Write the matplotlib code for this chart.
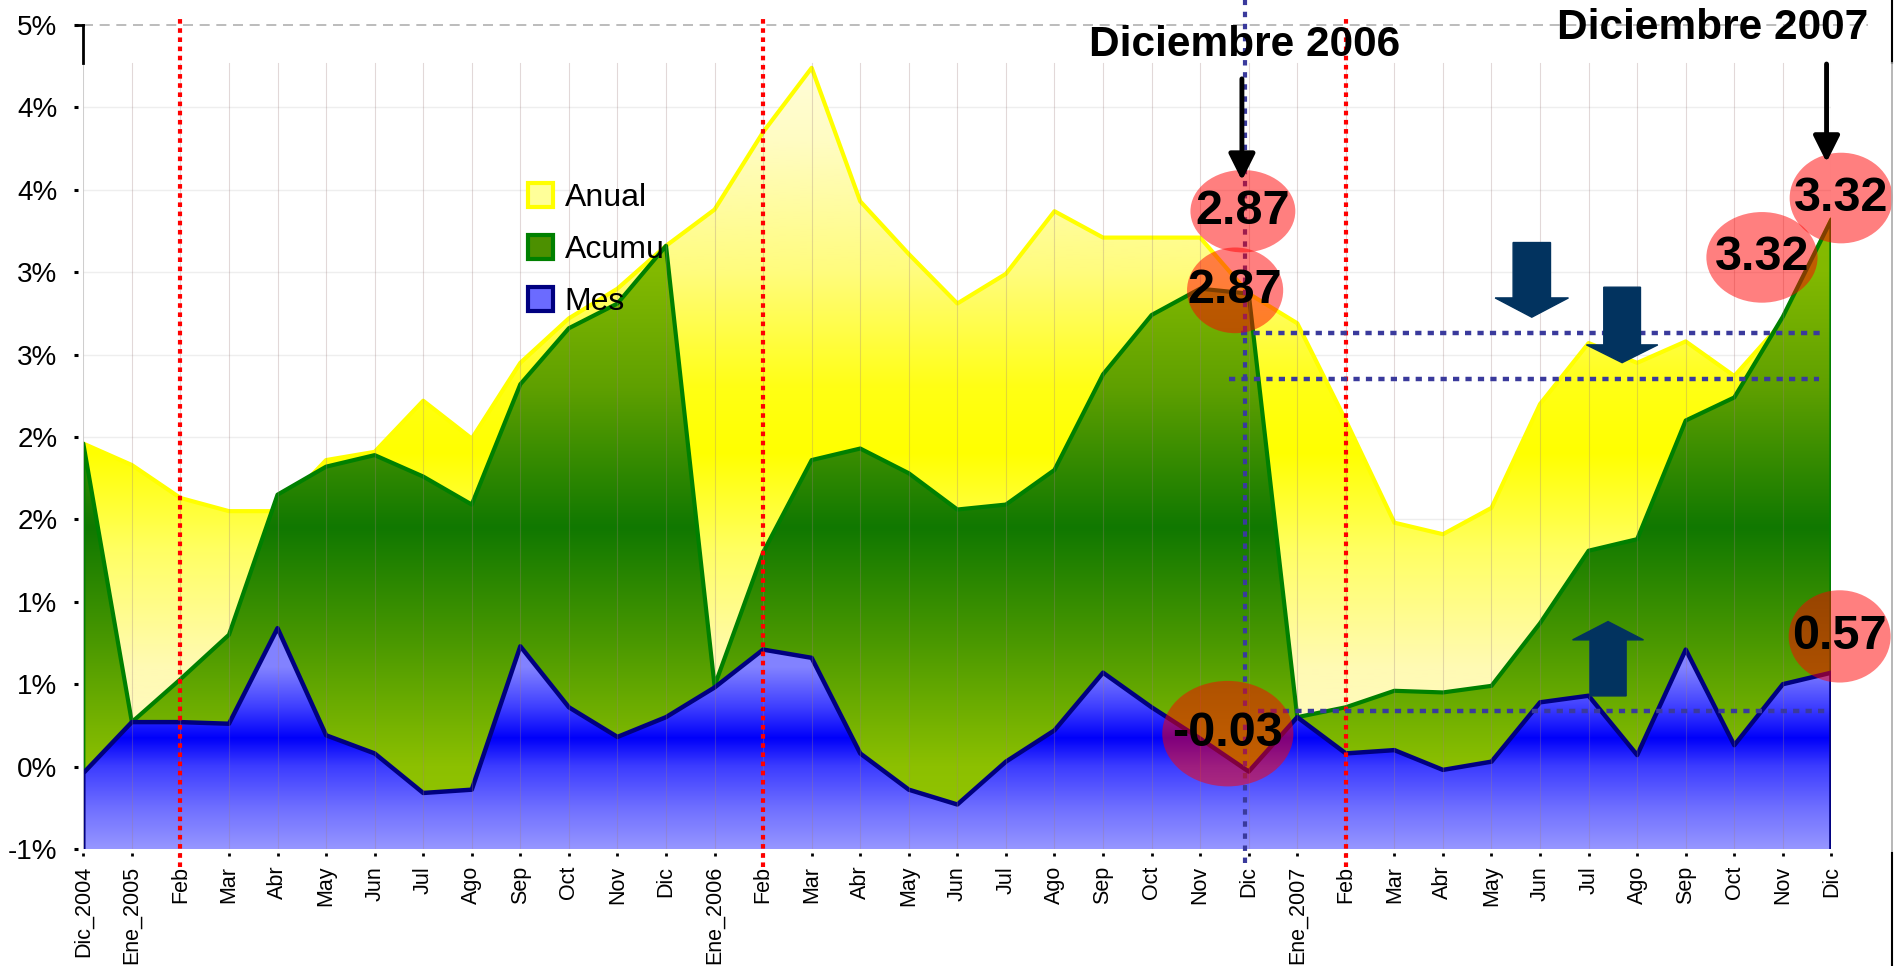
import matplotlib
matplotlib.use("Agg")
import matplotlib.pyplot as plt
import numpy as np
from matplotlib.patches import Ellipse, FancyArrow, Patch
from matplotlib.lines import Line2D

plt.rcParams['font.family'] = ['Liberation Sans', 'DejaVu Sans']

# ---- data (% variation) ----
meses = ["Feb", "Mar", "Abr", "May", "Jun", "Jul", "Ago", "Sep", "Oct", "Nov", "Dic"]
etiquetas = ["Dic_2004", "Ene_2005"] + meses + ["Ene_2006"] + meses + ["Ene_2007"] + meses

anual = [1.96, 1.83, 1.63, 1.55, 1.55, 1.86, 1.91, 2.22, 1.99, 2.45, 2.72, 2.90,
         3.16, 3.38, 3.85, 4.24, 3.43, 3.11, 2.81, 2.99, 3.37, 3.21, 3.21, 3.21, 2.87,
         2.69, 2.10, 1.48, 1.41, 1.57, 2.20, 2.57, 2.45, 2.58, 2.37, 2.70, 3.32]
acumulado = [1.96, 0.27, 0.53, 0.80, 1.65, 1.82, 1.89, 1.76, 1.59, 2.32, 2.66, 2.81,
             3.16, 0.49, 1.30, 1.86, 1.93, 1.78, 1.56, 1.59, 1.80, 2.38, 2.74, 2.90, 2.87,
             0.30, 0.36, 0.46, 0.45, 0.49, 0.87, 1.31, 1.38, 2.10, 2.24, 2.73, 3.32]
mensual = [-0.04, 0.27, 0.27, 0.26, 0.84, 0.19, 0.08, -0.16, -0.14, 0.73, 0.36, 0.18,
           0.30, 0.48, 0.71, 0.66, 0.08, -0.14, -0.23, 0.03, 0.22, 0.57, 0.36, 0.17, -0.03,
           0.30, 0.08, 0.10, -0.02, 0.03, 0.39, 0.43, 0.07, 0.71, 0.13, 0.50, 0.57]

ytick_vals = [-0.5, 0.0, 0.5, 1.0, 1.5, 2.0, 2.5, 3.0, 3.5, 4.0, 4.5]
ytick_labels = ["-1%", "0%", "1%", "1%", "2%", "2%", "3%", "3%", "4%", "4%", "5%"]

# reference levels drawn as dotted lines (value, from index, to index)
niveles = [(2.63, 23.84, 35.87), (2.35, 23.6, 35.75), (0.34, 24.2, 35.9)]
febreros = [2, 14, 26]
dic_2006, dic_2007 = 24, 36

Y0, Y1 = -0.5, 4.5
TOP_INNER = 4.27

# gradient stops: (value, rgb)
grad_anual = [(-0.5, (255, 250, 205)), (0.6, (255, 250, 180)), (1.3, (255, 255, 100)),
              (1.9, (255, 255, 0)), (2.3, (255, 255, 20)), (3.0, (255, 252, 125)),
              (3.8, (255, 252, 195)), (4.5, (255, 253, 228))]
grad_acum = [(-0.5, (150, 200, 0)), (0.0, (140, 192, 0)), (0.8, (70, 150, 0)),
             (1.45, (16, 120, 0)), (2.3, (95, 160, 0)), (3.0, (130, 185, 0)),
             (4.5, (150, 200, 0))]
grad_mes = [(-0.5, (150, 150, 255)), (-0.25, (110, 110, 255)), (0.0, (60, 60, 255)),
            (0.17, (0, 0, 250)), (0.35, (60, 60, 255)), (0.6, (130, 130, 255)),
            (4.5, (150, 150, 255))]


def area_gradiente(ax, x, y, stops, color_linea, z, lw=3):
    poly = ax.fill_between(x, y, Y0, facecolor='none', edgecolor='none', zorder=z)
    vs = np.linspace(Y0, Y1, 500)
    pos = [s[0] for s in stops]
    cols = np.array([s[1] for s in stops]) / 255.0
    img = np.stack([np.interp(vs, pos, cols[:, k]) for k in range(3)], axis=-1)[:, None, :]
    im = ax.imshow(img, extent=[x[0], x[-1], Y0, Y1], origin='lower', aspect='auto',
                   zorder=z, interpolation='bilinear')
    im.set_clip_path(poly.get_paths()[0], transform=ax.transData)
    xs = np.concatenate([[x[0]], x, [x[-1]]])
    ys = np.concatenate([[Y0], y, [Y0]])
    ax.plot(xs, ys, color=color_linea, lw=lw, zorder=z + 0.5, solid_joinstyle='round')


fig = plt.figure(figsize=(19.01, 9.66), dpi=100)
ax = fig.add_axes([0.04382, 0.12112, 0.91957, 0.85300])

# spines first: moving them resets the tick objects
for s in ['top', 'right', 'left', 'bottom']:
    ax.spines[s].set_visible(False)
ax.spines['left'].set_position(('outward', 3.6))
ax.spines['bottom'].set_position(('outward', 2.9))

x = np.arange(len(etiquetas))

# faint horizontal grid
for v in ytick_vals[:-1]:
    ax.plot([0, 36], [v, v], color='#eeeeee', lw=1, zorder=0)
ax.plot([0, 36.75], [Y1, Y1], color='#b0b0b0', lw=1.2, ls=(0, (6, 4)), zorder=0, clip_on=False)

area_gradiente(ax, x, np.array(anual), grad_anual, '#ffff00', 1)
area_gradiente(ax, x, np.array(acumulado), grad_acum, '#008000', 2)
area_gradiente(ax, x, np.array(mensual), grad_mes, '#000080', 3, lw=3.2)

# faint vertical grid over the areas
for i in x:
    ax.plot([i, i], [Y0, TOP_INNER], color='#a08080', lw=0.8, alpha=0.3, zorder=4)
ax.plot([0, 0], [Y0, TOP_INNER], color='#cccccc', lw=1.2, zorder=4)
ax.plot([0, 0], [TOP_INNER, Y1], color='black', lw=2, zorder=4, clip_on=False)
ax.plot([-0.12, 0], [Y1, Y1], color='black', lw=2, zorder=4, clip_on=False)

# red dotted lines at each February
for f in febreros:
    ax.plot([f, f], [-0.61, 4.555], color='red', lw=3, ls=(0, (1.1, 1.1)),
            zorder=5, clip_on=False)

# blue dotted marker lines
azul = '#3a3a9c'
ax.plot([dic_2006 - 0.08] * 2, [-0.585, 4.66], color=azul, lw=3, ls=(0, (1.3, 1.6)),
        zorder=5, clip_on=False)
for v, a, b in niveles:
    ax.plot([a, b], [v, v], color=azul, lw=3.2, ls=(0, (1.4, 1.4)), zorder=5)

# navy block arrows
navy = '#02335f'
ax.add_patch(FancyArrow(29.83, 3.18, 0, -0.453, width=0.77, head_width=1.51,
                        head_length=0.117, length_includes_head=True, color=navy, zorder=6))
ax.add_patch(FancyArrow(31.69, 2.909, 0, -0.458, width=0.756, head_width=1.47,
                        head_length=0.108, length_includes_head=True, color=navy, zorder=6))
ax.add_patch(FancyArrow(31.4, 0.429, 0, 0.451, width=0.745, head_width=1.46,
                        head_length=0.111, length_includes_head=True, color=navy, zorder=6))

# highlighted values (index, value, dx, dy, width, height)
resaltados = [
    (dic_2006, anual[dic_2006], -0.12, 0.50, 2.16, 0.50),
    (dic_2006, acumulado[dic_2006], -0.28, 0.02, 1.98, 0.52),
    (dic_2006, mensual[dic_2006], -0.43, 0.23, 2.70, 0.64),
    (dic_2007, acumulado[dic_2007], -1.43, -0.23, 2.29, 0.55),
    (dic_2007, anual[dic_2007], 0.20, 0.13, 2.12, 0.55),
    (dic_2007, mensual[dic_2007], 0.17, 0.22, 2.10, 0.56),
]
for i, val, dx, dy, w, h in resaltados:
    cx, cy = i + dx, val + dy
    ax.add_patch(Ellipse((cx, cy), w, h, facecolor=(1, 0, 0, 0.5), edgecolor='none',
                         zorder=6, clip_on=False))
    ax.text(cx, cy, f"{val:.2f}", ha='center', va='center', fontsize=35,
            fontweight='bold', color='black', zorder=7, clip_on=False)

# black arrows + titles
for xi, y_from, y_to in [(dic_2006 - 0.14, 4.19, 3.54), (dic_2007 - 0.1, 4.28, 3.65)]:
    ax.annotate('', xy=(xi, y_to), xytext=(xi, y_from), annotation_clip=False,
                arrowprops=dict(arrowstyle='-|>,head_length=0.8,head_width=0.4',
                                lw=3.5, color='black', mutation_scale=20), zorder=7)
ax.text(dic_2006 - 0.08, 4.38, "Diciembre 2006", ha='center', va='center', fontsize=30.5,
        fontweight='bold', zorder=7, clip_on=False)
ax.text(33.56, 4.48, "Diciembre 2007", ha='center', va='center', fontsize=30.5,
        fontweight='bold', zorder=7, clip_on=False)

# legend
handles = [Patch(facecolor='#ffff99', edgecolor='#ffff00', lw=3, label='Anual'),
           Patch(facecolor='#4c9000', edgecolor='#008000', lw=3, label='Acumu'),
           Patch(facecolor='#6b6bff', edgecolor='#000080', lw=3, label='Mes')]
leg = ax.legend(handles=handles, loc='upper left', bbox_to_anchor=(0.2544, 0.808),
                frameon=False, fontsize=23, handlelength=0.78, handleheight=0.78,
                handletextpad=0.37, labelspacing=0.68, borderpad=0, borderaxespad=0)
leg.set_zorder(8)

# axes
ax.set_xlim(0, 36)
ax.set_ylim(Y0, Y1)
ax.set_xticks(x)
ax.set_xticklabels(etiquetas, rotation=90, fontsize=15.5, va='top', ha='center')
ax.set_yticks(ytick_vals)
ax.set_yticklabels(ytick_labels, fontsize=20)
ax.tick_params(axis='y', length=2.9, width=2.2, pad=12, color='black')
ax.tick_params(axis='x', length=2.2, width=2, pad=7, color='black')
ax.set_facecolor('white')

# frame line on the right edge of the picture
fig.add_artist(Line2D([0.9953, 0.9953], [0.935, 1.0], color='black', lw=1.5))
fig.add_artist(Line2D([0.9953, 0.9953], [0.117, 0.935], color='#aaaaaa', lw=1.2))
fig.add_artist(Line2D([0.9953, 0.9953], [0.0, 0.117], color='black', lw=1.5))

fig.savefig("out.png", dpi=100)
